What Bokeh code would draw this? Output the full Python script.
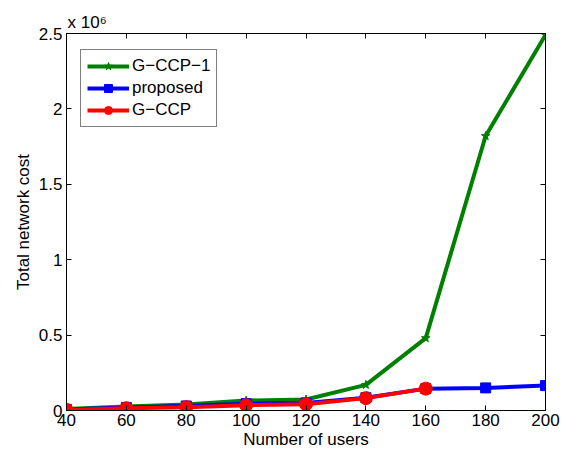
from bokeh.plotting import figure
from bokeh.models import (LinearAxis, Range1d, Legend, LegendItem,
                          FixedTicker, CustomJSTickFormatter)
from bokeh.embed import file_html
from bokeh.resources import INLINE

users = [40, 60, 80, 100, 120, 140, 160, 180, 200]
gccp1 = [0.010e6, 0.027e6, 0.040e6, 0.066e6, 0.073e6, 0.170e6, 0.480e6, 1.820e6, 2.490e6]
proposed = [0.006e6, 0.020e6, 0.030e6, 0.045e6, 0.050e6, 0.085e6, 0.145e6, 0.150e6, 0.165e6]
gccp_users = [40, 60, 80, 100, 120, 140, 160]
gccp = [0.004e6, 0.015e6, 0.022e6, 0.035e6, 0.042e6, 0.082e6, 0.145e6]

x_ticks = [40, 60, 80, 100, 120, 140, 160, 180, 200]
y_ticks = [0, 0.5e6, 1.0e6, 1.5e6, 2.0e6, 2.5e6]

FONT = "Liberation Sans"
FS = "17px"

p = figure(width=569, height=455, output_backend="svg", toolbar_location=None,
           x_range=Range1d(40, 200), y_range=Range1d(0, 2.5e6),
           min_border_left=66, min_border_right=24, min_border_top=33, min_border_bottom=45)
p.grid.visible = False
p.outline_line_color = "black"
p.outline_line_width = 1
p.background_fill_color = "white"
p.border_fill_color = "white"

p.title.text = "x 10\u2076"
p.title.align = "left"
p.title.text_font = FONT
p.title.text_font_size = FS
p.title.text_font_style = "normal"
p.title.text_color = "black"
p.title.offset = 1
p.title.standoff = 3

fmt = CustomJSTickFormatter(code="return (tick/1e6).toString();")
blank = CustomJSTickFormatter(code="return '';")

def style_axis(ax):
    ax.major_tick_in = 5
    ax.major_tick_out = 0
    ax.minor_tick_in = 0
    ax.minor_tick_out = 0
    ax.axis_line_color = "black"
    ax.major_tick_line_color = "black"
    ax.major_label_text_font = FONT
    ax.major_label_text_font_size = FS
    ax.major_label_text_color = "black"
    ax.axis_label_text_font = FONT
    ax.axis_label_text_font_size = FS
    ax.axis_label_text_font_style = "normal"
    ax.axis_label_text_color = "black"

p.xaxis.ticker = FixedTicker(ticks=x_ticks)
p.yaxis.ticker = FixedTicker(ticks=y_ticks)
p.yaxis.formatter = fmt
p.xaxis.axis_label = "Number of users"
p.yaxis.axis_label = "Total network cost"
style_axis(p.xaxis[0])
style_axis(p.yaxis[0])
p.xaxis.major_label_standoff = 3
p.yaxis.major_label_standoff = 4
p.xaxis.axis_label_standoff = 1
p.yaxis.axis_label_standoff = 3

top = LinearAxis(ticker=FixedTicker(ticks=x_ticks), formatter=blank)
right = LinearAxis(ticker=FixedTicker(ticks=y_ticks), formatter=blank)
style_axis(top)
style_axis(right)
top.major_label_standoff = 0
right.major_label_standoff = 0
p.add_layout(top, "above")
p.add_layout(right, "right")

lw = 4
g1l = p.line(users, gccp1, line_color="#008000", line_width=lw)
g1m = p.scatter(users, gccp1, marker="star", size=9, color="#008000")
prl = p.line(users, proposed, line_color="#0000ff", line_width=lw)
prm = p.scatter(users, proposed, marker="square", size=10, color="#0000ff")
gcl = p.line(gccp_users, gccp, line_color="#ff0000", line_width=lw)
gcm = p.scatter(gccp_users, gccp, marker="circle", size=13, color="#ff0000")

legend = Legend(items=[
    LegendItem(label="G\u2212CCP\u22121", renderers=[g1l, g1m]),
    LegendItem(label="proposed", renderers=[prl, prm]),
    LegendItem(label="G\u2212CCP", renderers=[gcl, gcm]),
], location=(14, 283))
legend.label_text_font = FONT
legend.label_text_font_size = FS
legend.label_text_color = "black"
legend.border_line_color = "black"
legend.border_line_width = 1
legend.background_fill_alpha = 1
legend.glyph_width = 42
legend.glyph_height = 20
legend.spacing = 2
legend.padding = 6
legend.margin = 0
legend.label_standoff = 3
legend.label_height = 20
p.add_layout(legend)

open("out.html", "w").write(file_html(p, INLINE))
